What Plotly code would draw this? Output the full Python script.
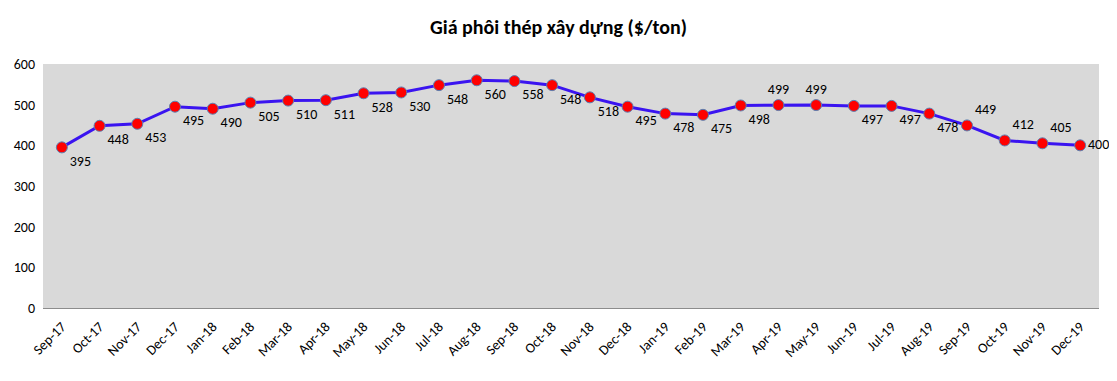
import plotly.graph_objects as go

months = ["Sep-17", "Oct-17", "Nov-17", "Dec-17", "Jan-18", "Feb-18", "Mar-18", "Apr-18",
          "May-18", "Jun-18", "Jul-18", "Aug-18", "Sep-18", "Oct-18", "Nov-18", "Dec-18",
          "Jan-19", "Feb-19", "Mar-19", "Apr-19", "May-19", "Jun-19", "Jul-19", "Aug-19",
          "Sep-19", "Oct-19", "Nov-19", "Dec-19"]
prices = [395, 448, 453, 495, 490, 505, 510, 511, 528, 530, 548, 560, 558, 548, 518, 495,
          478, 475, 498, 499, 499, 497, 497, 478, 449, 412, 405, 400]
label_pos = ["bottom right"] * 19 + ["top center", "top center"] + ["bottom right"] * 3 + \
            ["top right", "top right", "top right", "middle right"]

FONT = "Carlito, Lato, sans-serif"

fig = go.Figure()
fig.add_trace(go.Scatter(
    x=months, y=prices, mode="lines+markers+text",
    line=dict(color="#3a14f0", width=3),
    marker=dict(color="#ff0000", size=11, line=dict(color="#5b7fb0", width=1)),
    text=[str(v) for v in prices], textposition=label_pos,
    textfont=dict(family=FONT, size=14, color="#000000"),
    cliponaxis=False, showlegend=False,
))

fig.update_layout(
    width=1101, height=365,
    margin=dict(l=35, r=10, t=56, b=65),
    paper_bgcolor="white", plot_bgcolor="#d9d9d9",
    title=dict(text="<b>Giá phôi thép xây dựng ($/ton)</b>", x=0.5, xanchor="center",
               y=1 - 19 / 365, yanchor="middle",
               font=dict(family=FONT, size=20, color="#000000")),
    font=dict(family=FONT, size=13, color="#000000"),
)
fig.update_xaxes(type="category", range=[-0.5, len(months) - 0.5], tickangle=-45,
                 showgrid=False, showline=True, linecolor="#8c8c8c", linewidth=1,
                 ticks="", tickfont=dict(size=14), ticklabelstandoff=4, automargin=False)
fig.update_yaxes(range=[0, 600], dtick=100, showgrid=False, zeroline=False,
                 showline=False, ticks="", tickfont=dict(size=14), ticklabelstandoff=7,
                 automargin=False)

fig.write_html("out.html")
